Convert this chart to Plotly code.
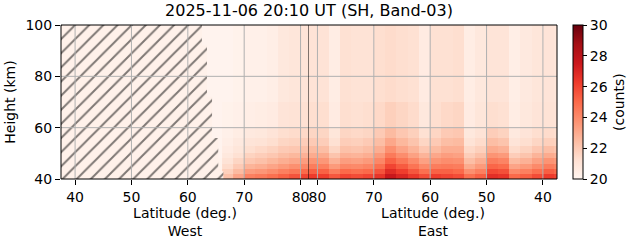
import numpy as np
import plotly.graph_objects as go
import plotly.colors as pc

title = "2025-11-06 20:10 UT (SH, Band-03)"
height_edges = [40, 42, 44, 46, 48, 50, 53, 56, 60, 70, 100]

# West half: latitude bin edges (increasing) and column profiles (bottom -> top)
west_lat_edges = [62, 64, 66, 68, 70, 72, 74, 76, 78, 80, 81.5]
west_cols = [
    [20.1, 20.1, 20.1, 20.1, 20.1, 20.1, 20.1, 20.1, 20.1, 20.1],
    [20.4, 20.3, 20.2, 20.2, 20.1, 20.1, 20.1, 20.1, 20.1, 20.1],
    [22.3, 21.8, 21.4, 21.1, 20.8, 20.6, 20.4, 20.3, 20.2, 20.1],
    [23.2, 22.5, 22.0, 21.6, 21.2, 20.9, 20.7, 20.5, 20.3, 20.2],
    [24.3, 23.4, 22.7, 22.1, 21.7, 21.3, 21.0, 20.7, 20.4, 20.3],
    [24.5, 23.6, 22.9, 22.3, 21.9, 21.5, 21.1, 20.8, 20.5, 20.3],
    [24.8, 23.9, 23.2, 22.6, 22.1, 21.7, 21.3, 21.0, 20.6, 20.4],
    [25.2, 24.3, 23.5, 22.9, 22.4, 22.0, 21.6, 21.3, 21.0, 20.8],
    [25.6, 24.6, 23.8, 23.1, 22.6, 22.1, 21.7, 21.4, 21.1, 20.9],
    [26.0, 25.0, 24.1, 23.4, 22.8, 22.3, 21.9, 21.5, 21.2, 21.0],
]

# East half: latitude bin edges (decreasing) and column profiles (bottom -> top)
east_lat_edges = [81.5, 80, 78, 76, 74, 72, 70, 68, 66, 64, 62, 60, 58, 56, 54,
                  52, 50, 48, 46, 44, 42, 40, 38, 37.5]
east_cols = [
    [26.3, 25.3, 24.4, 23.7, 23.0, 22.5, 22.0, 21.6, 21.3, 21.1],
    [26.2, 25.2, 24.3, 23.6, 23.0, 22.4, 21.9, 21.6, 21.3, 21.1],
    [25.5, 24.4, 23.5, 22.8, 22.2, 21.6, 21.2, 20.9, 20.6, 20.5],
    [26.0, 25.0, 24.1, 23.4, 22.8, 22.3, 21.9, 21.6, 21.3, 21.2],
    [25.8, 24.8, 24.0, 23.3, 22.7, 22.2, 21.8, 21.5, 21.2, 21.1],
    [26.0, 25.0, 24.2, 23.5, 22.9, 22.4, 22.0, 21.6, 21.3, 21.1],
    [26.5, 25.6, 24.8, 24.1, 23.5, 22.9, 22.4, 22.0, 21.5, 21.3],
    [27.6, 26.8, 26.0, 25.2, 24.5, 23.8, 23.1, 22.5, 21.8, 21.4],
    [27.0, 26.2, 25.4, 24.6, 23.9, 23.2, 22.6, 22.1, 21.6, 21.3],
    [26.4, 25.5, 24.7, 24.0, 23.3, 22.7, 22.2, 21.8, 21.4, 21.2],
    [25.8, 24.8, 24.0, 23.3, 22.7, 22.1, 21.6, 21.2, 20.8, 20.6],
    [26.2, 25.2, 24.4, 23.7, 23.1, 22.5, 22.0, 21.6, 21.3, 21.2],
    [26.0, 25.2, 24.5, 23.9, 23.4, 22.9, 22.4, 22.0, 21.5, 21.2],
    [25.8, 25.0, 24.4, 23.8, 23.3, 22.9, 22.5, 22.1, 21.6, 21.3],
    [24.8, 23.8, 23.0, 22.4, 21.9, 21.5, 21.1, 20.8, 20.6, 20.5],
    [25.3, 24.3, 23.5, 22.9, 22.3, 21.8, 21.4, 21.1, 20.9, 20.8],
    [26.7, 25.9, 25.1, 24.4, 23.7, 23.0, 22.4, 21.9, 21.3, 21.0],
    [26.5, 25.7, 24.9, 24.2, 23.5, 22.8, 22.2, 21.7, 21.2, 21.0],
    [25.0, 24.0, 23.2, 22.5, 21.9, 21.4, 21.0, 20.7, 20.5, 20.4],
    [25.3, 24.3, 23.5, 22.8, 22.2, 21.7, 21.3, 21.0, 20.8, 20.7],
    [25.8, 24.8, 24.0, 23.3, 22.7, 22.1, 21.6, 21.3, 21.0, 20.9],
    [26.3, 25.3, 24.4, 23.7, 23.0, 22.4, 21.8, 21.4, 21.1, 21.0],
    [26.0, 25.0, 24.2, 23.5, 22.8, 22.2, 21.7, 21.3, 21.0, 20.9],
]

# Missing-data (hatched) region on the West side
hatch_lat = [37.5, 62.5, 62.5, 63.4, 63.4, 64.3, 64.3, 65.4, 65.4, 66.3, 66.3, 37.5]
hatch_height = [100, 100, 92, 92, 72, 72, 56, 56, 43, 43, 40, 40]

tick_vals = [40, 50, 60, 70, 80]
y_ticks = [40, 60, 80, 100]
cbar_ticks = [20, 22, 24, 26, 28, 30]

reds = pc.sequential.Reds
cscale = [[i / (len(reds) - 1), c] for i, c in enumerate(reds)]
FONT = "DejaVu Sans"

fig = go.Figure()
fig.add_trace(go.Heatmap(
    x=west_lat_edges, y=height_edges, z=np.array(west_cols).T,
    colorscale=cscale, zmin=20, zmax=30, xaxis="x", yaxis="y",
    showscale=True,
    colorbar=dict(x=1.032, xanchor="left", xpad=0, ypad=0,
                  y=0.5, yanchor="middle", len=1,
                  thickness=10, outlinecolor="black", outlinewidth=1,
                  tickvals=cbar_ticks, ticks="outside", ticklen=4,
                  tickcolor="black", tickfont=dict(family=FONT, size=14, color="black")),
))
fig.add_trace(go.Heatmap(
    x=east_lat_edges, y=height_edges, z=np.array(east_cols).T,
    colorscale=cscale, zmin=20, zmax=30, xaxis="x2", yaxis="y",
    showscale=False,
))
fig.add_trace(go.Scatter(
    x=hatch_lat, y=hatch_height, xaxis="x", yaxis="y", mode="lines",
    line=dict(width=0), fill="toself", fillcolor="#fff1ea",
    fillpattern=dict(shape="/", fgcolor="black", bgcolor="#fff1ea",
                     size=10, solidity=0.2),
    hoverinfo="skip", showlegend=False,
))

shapes = []
grid = dict(color="#b0b0b0", width=1)
for v in tick_vals:
    shapes.append(dict(type="line", xref="x", yref="y domain", x0=v, x1=v,
                       y0=0, y1=1, line=grid, layer="above"))
    shapes.append(dict(type="line", xref="x2", yref="y domain", x0=v, x1=v,
                       y0=0, y1=1, line=grid, layer="above"))
for v in y_ticks[1:-1]:
    shapes.append(dict(type="line", xref="paper", yref="y", x0=0, x1=1,
                       y0=v, y1=v, line=grid, layer="above"))
shapes.append(dict(type="line", xref="x", yref="y domain", x0=81.5, x1=81.5,
                   y0=0, y1=1, line=dict(color="black", width=1), layer="above"))
shapes.append(dict(type="rect", xref="paper", yref="paper", x0=0, x1=1, y0=0, y1=1,
                   line=dict(color="black", width=1), layer="above"))

axis_common = dict(ticks="outside", ticklen=5, tickcolor="black", showgrid=False,
                   zeroline=False, tickfont=dict(family=FONT, size=14, color="black"),
                   tickvals=tick_vals, ticktext=[str(v) for v in tick_vals])
fig.update_layout(
    width=631, height=243,
    margin=dict(l=61, r=74, t=25, b=64, autoexpand=False),
    paper_bgcolor="white", plot_bgcolor="white",
    font=dict(family=FONT, color="black"),
    title=dict(text=title, x=0.5, xanchor="center", xref="paper",
               y=1, yref="container", yanchor="top", pad=dict(t=5),
               font=dict(family=FONT, size=16, color="black")),
    xaxis=dict(domain=[0, 0.5], range=[37.5, 81.5], anchor="y",
               title=dict(text="Latitude (deg.)<br>West", standoff=4,
                          font=dict(family=FONT, size=14, color="black")),
               **axis_common),
    xaxis2=dict(domain=[0.5, 1], range=[81.5, 37.5], anchor="y",
                title=dict(text="Latitude (deg.)<br>East", standoff=4,
                           font=dict(family=FONT, size=14, color="black")),
                **axis_common),
    yaxis=dict(range=[40, 100], tickvals=y_ticks, ticks="outside", ticklen=5,
               tickcolor="black", showgrid=False, zeroline=False,
               tickfont=dict(family=FONT, size=14, color="black"),
               title=dict(text="Height (km)", standoff=6,
                          font=dict(family=FONT, size=14, color="black"))),
    annotations=[dict(text="(counts)", xref="paper", yref="paper", x=1.125, y=0.5,
                      xanchor="center", yanchor="middle", textangle=-90,
                      showarrow=False, font=dict(family=FONT, size=14, color="black"))],
    shapes=shapes,
)
fig.write_html("out.html")
